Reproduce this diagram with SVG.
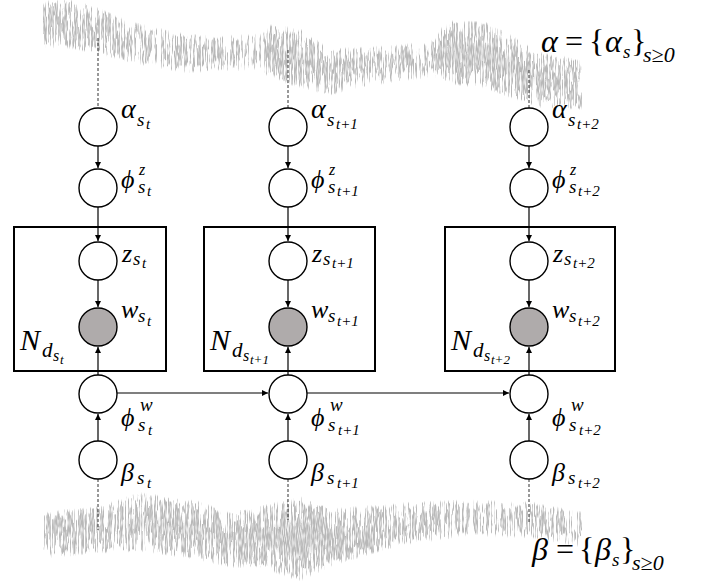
<svg xmlns="http://www.w3.org/2000/svg" width="710" height="585" viewBox="0 0 710 585">
<style>
.node{fill:#fff;stroke:#000;stroke-width:1.4}
.obs{fill:#afabab}
.plate{fill:none;stroke:#000;stroke-width:2}
.edge{stroke:#000;stroke-width:1.2;fill:none;marker-end:url(#ah)}
.dash{stroke:#333;stroke-width:1;stroke-dasharray:3 2;fill:none}
text{font-family:"Liberation Serif","DejaVu Serif",serif;font-style:italic;font-size:26px;fill:#000}
.sub{font-size:19px}
.sup{font-size:16px}
.ss{font-size:15px}
.up{font-style:normal}
</style>
<defs>
<marker id="ah" markerUnits="userSpaceOnUse" markerWidth="7" markerHeight="7" refX="6" refY="3" orient="auto">
<path d="M0,0 L6,3 L0,6 z" fill="#000"/>
</marker>
<filter id="ts" filterUnits="userSpaceOnUse" x="0" y="0" width="710" height="585" color-interpolation-filters="sRGB">
<feGaussianBlur in="SourceAlpha" stdDeviation="0 13" result="b"/>
<feTurbulence type="fractalNoise" baseFrequency="0.7 0.03" numOctaves="3" seed="4" result="n"/>
<feColorMatrix in="n" type="matrix" values="0 0 0 0 0 0 0 0 0 0 0 0 0 0 0 4 0 0 0 -1.6" result="na"/>
<feComposite in="b" in2="na" operator="arithmetic" k1="1" k2="0.35" k3="0" k4="0" result="p"/>
<feComponentTransfer in="p" result="m"><feFuncA type="linear" slope="12" intercept="-3.4"/></feComponentTransfer>
<feTurbulence type="fractalNoise" baseFrequency="0.9 0.15" numOctaves="1" seed="9" result="n2"/>
<feColorMatrix in="n2" type="matrix" values="0 0 0 0 0 0 0 0 0 0 0 0 0 0 0 2.2 0 0 0 -0.35" result="n2a"/>
<feComposite in="m" in2="n2a" operator="arithmetic" k1="1" k2="0" k3="0" k4="0" result="mm"/>
<feFlood flood-color="#b8b8b8" result="c"/>
<feComposite in="c" in2="mm" operator="in"/>
</filter>
</defs>
<g id="noise-alpha" filter="url(#ts)">
<polygon points="43,10 70,9 95,16 130,31 180,42 215,45 262,43 270,34 300,38 330,58 355,57 400,54 435,49 445,30 485,31 510,44 540,62 582,68 582,100 540,98 510,88 485,79 445,74 435,68 400,72 355,79 330,86 300,78 270,70 262,60 215,63 180,63 130,53 95,44 70,39 43,38" fill="#000"/>
</g>
<g id="noise-beta" filter="url(#ts)">
<polygon points="43,521 97,516 140,502 197,510 230,522 263,515 300,506 333,518 400,512 467,509 533,511 582,521 582,538 533,529 467,527 400,536 333,556 300,572 263,559 230,558 197,550 140,542 97,544 43,549" fill="#000"/>
</g>
<g id="dashes">
<path class="dash" d="M98,38 V108 M288,50 V108 M529,70 V108 M98,479 V530 M288,479 V520 M529,479 V523"/>
</g>
<g id="plates">
<rect class="plate" x="14" y="227" width="152" height="144"/>
<rect class="plate" x="204" y="227" width="171" height="144"/>
<rect class="plate" x="445" y="227" width="170" height="144"/>
</g>
<g id="connectors">
<path class="edge" d="M98,146 V168"/>
<path class="edge" d="M98,207 V241"/>
<path class="edge" d="M98,280 V307"/>
<path class="edge" d="M98,375 V347"/>
<path class="edge" d="M98,441 V414"/>
<path class="edge" d="M288,146 V168"/>
<path class="edge" d="M288,207 V241"/>
<path class="edge" d="M288,280 V307"/>
<path class="edge" d="M288,375 V347"/>
<path class="edge" d="M288,441 V414"/>
<path class="edge" d="M529,146 V168"/>
<path class="edge" d="M529,207 V241"/>
<path class="edge" d="M529,280 V307"/>
<path class="edge" d="M529,375 V347"/>
<path class="edge" d="M529,441 V414"/>
<path class="edge" d="M117,393 H268"/>
<path class="edge" d="M307,393 H509"/>
</g>
<g id="col1">
<g id="alpha_t"><circle class="node" cx="98" cy="127" r="19"/><text><tspan x="121" y="118" style="font-size:28px">α</tspan><tspan class="sub" x="137" y="126">s</tspan><tspan class="ss" x="146" y="129">t</tspan></text></g>
<g id="phiz_t"><circle class="node" cx="98" cy="188" r="19"/><text><tspan x="121" y="188">ϕ</tspan><tspan class="sup" x="139" y="175">z</tspan><tspan class="sub" x="138" y="193">s</tspan><tspan class="ss" x="147" y="196">t</tspan></text></g>
<g id="z_t"><circle class="node" cx="98" cy="261" r="19"/><text><tspan x="122" y="262">z</tspan><tspan class="sub" x="133" y="265">s</tspan><tspan class="ss" x="142" y="268">t</tspan></text></g>
<g id="w_t"><circle class="node obs" cx="98" cy="327" r="19"/><text><tspan x="121" y="318">w</tspan><tspan class="sub" x="138" y="322">s</tspan><tspan class="ss" x="147" y="326">t</tspan></text></g>
<g id="N_t"><text><tspan x="20" y="350" style="font-size:30px">N</tspan><tspan x="42" y="357" style="font-size:21px">d</tspan><tspan x="53" y="361" style="font-size:16px">s</tspan><tspan x="60" y="364" style="font-size:13px">t</tspan></text></g>
<g id="phiw_t"><circle class="node" cx="98" cy="394" r="19"/><text><tspan x="121" y="426">ϕ</tspan><tspan class="sub" x="140" y="411">w</tspan><tspan class="sub" x="138" y="431">s</tspan><tspan class="ss" x="148" y="435">t</tspan></text></g>
<g id="beta_t"><circle class="node" cx="98" cy="460" r="19"/><text><tspan x="121" y="481">β</tspan><tspan class="sub" x="137" y="484">s</tspan><tspan class="ss" x="147" y="488">t</tspan></text></g>
</g>
<g id="col2">
<g id="alpha_t1"><circle class="node" cx="288" cy="127" r="19"/><text><tspan x="311" y="118" style="font-size:28px">α</tspan><tspan class="sub" x="327" y="126">s</tspan><tspan class="ss" x="336" y="129">t+1</tspan></text></g>
<g id="phiz_t1"><circle class="node" cx="288" cy="188" r="19"/><text><tspan x="311" y="188">ϕ</tspan><tspan class="sup" x="329" y="175">z</tspan><tspan class="sub" x="328" y="193">s</tspan><tspan class="ss" x="337" y="196">t+1</tspan></text></g>
<g id="z_t1"><circle class="node" cx="288" cy="261" r="19"/><text><tspan x="312" y="262">z</tspan><tspan class="sub" x="323" y="265">s</tspan><tspan class="ss" x="332" y="268">t+1</tspan></text></g>
<g id="w_t1"><circle class="node obs" cx="288" cy="327" r="19"/><text><tspan x="311" y="318">w</tspan><tspan class="sub" x="328" y="322">s</tspan><tspan class="ss" x="337" y="326">t+1</tspan></text></g>
<g id="N_t1"><text><tspan x="210" y="350" style="font-size:30px">N</tspan><tspan x="232" y="357" style="font-size:21px">d</tspan><tspan x="243" y="361" style="font-size:16px">s</tspan><tspan x="250" y="364" style="font-size:13px">t+1</tspan></text></g>
<g id="phiw_t1"><circle class="node" cx="288" cy="394" r="19"/><text><tspan x="311" y="426">ϕ</tspan><tspan class="sub" x="330" y="411">w</tspan><tspan class="sub" x="328" y="431">s</tspan><tspan class="ss" x="338" y="435">t+1</tspan></text></g>
<g id="beta_t1"><circle class="node" cx="288" cy="460" r="19"/><text><tspan x="311" y="481">β</tspan><tspan class="sub" x="327" y="484">s</tspan><tspan class="ss" x="337" y="488">t+1</tspan></text></g>
</g>
<g id="col3">
<g id="alpha_t2"><circle class="node" cx="529" cy="127" r="19"/><text><tspan x="552" y="118" style="font-size:28px">α</tspan><tspan class="sub" x="568" y="126">s</tspan><tspan class="ss" x="577" y="129">t+2</tspan></text></g>
<g id="phiz_t2"><circle class="node" cx="529" cy="188" r="19"/><text><tspan x="552" y="188">ϕ</tspan><tspan class="sup" x="570" y="175">z</tspan><tspan class="sub" x="569" y="193">s</tspan><tspan class="ss" x="578" y="196">t+2</tspan></text></g>
<g id="z_t2"><circle class="node" cx="529" cy="261" r="19"/><text><tspan x="553" y="262">z</tspan><tspan class="sub" x="564" y="265">s</tspan><tspan class="ss" x="573" y="268">t+2</tspan></text></g>
<g id="w_t2"><circle class="node obs" cx="529" cy="327" r="19"/><text><tspan x="552" y="318">w</tspan><tspan class="sub" x="569" y="322">s</tspan><tspan class="ss" x="578" y="326">t+2</tspan></text></g>
<g id="N_t2"><text><tspan x="451" y="350" style="font-size:30px">N</tspan><tspan x="473" y="357" style="font-size:21px">d</tspan><tspan x="484" y="361" style="font-size:16px">s</tspan><tspan x="491" y="364" style="font-size:13px">t+2</tspan></text></g>
<g id="phiw_t2"><circle class="node" cx="529" cy="394" r="19"/><text><tspan x="552" y="426">ϕ</tspan><tspan class="sub" x="571" y="411">w</tspan><tspan class="sub" x="569" y="431">s</tspan><tspan class="ss" x="579" y="435">t+2</tspan></text></g>
<g id="beta_t2"><circle class="node" cx="529" cy="460" r="19"/><text><tspan x="552" y="481">β</tspan><tspan class="sub" x="568" y="484">s</tspan><tspan class="ss" x="578" y="488">t+2</tspan></text></g>
</g>
<g id="eq-alpha"><text style="font-size:32px"><tspan x="541" y="52">α</tspan><tspan class="up" x="565" y="52">=</tspan><tspan class="up" x="589" y="52">{</tspan><tspan x="605" y="52">α</tspan><tspan class="sub" x="623" y="58">s</tspan><tspan class="up" x="631" y="52">}</tspan><tspan x="643" y="62" style="font-size:22px">s≥0</tspan></text></g>
<g id="eq-beta"><text style="font-size:32px"><tspan x="532" y="560">β</tspan><tspan class="up" x="556" y="560">=</tspan><tspan class="up" x="579" y="560">{</tspan><tspan x="595" y="560">β</tspan><tspan class="sub" x="612" y="566">s</tspan><tspan class="up" x="620" y="560">}</tspan><tspan x="632" y="570" style="font-size:22px">s≥0</tspan></text></g>
</svg>
